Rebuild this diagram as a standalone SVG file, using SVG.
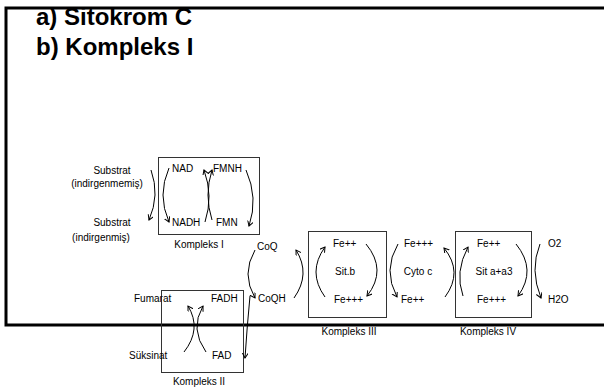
<svg xmlns="http://www.w3.org/2000/svg" width="604" height="388" viewBox="0 0 604 388">
<defs>
<style>
.t{font-family:"Liberation Sans",Arial,sans-serif;font-size:10px;fill:#000}
.h{font-family:"Liberation Sans",Arial,sans-serif;font-size:24px;font-weight:bold;fill:#000}
.m{text-anchor:middle}
.box{fill:none;stroke:#333;stroke-width:1}
.c{fill:none;stroke:#000;stroke-width:1;marker-end:url(#a)}
.fr{fill:none;stroke:#000;stroke-width:3}
</style>
<marker id="a" markerWidth="8" markerHeight="8" refX="5" refY="3" orient="auto" markerUnits="userSpaceOnUse">
<path d="M0,0 L5,3 L0,6" fill="none" stroke="#000" stroke-width="1"/>
</marker>
</defs>
<rect width="604" height="388" fill="#fff"/>
<g id="frame">
<path class="fr" d="M604,8 H6 V325 H604"/>
</g>
<g id="title">
<text class="h" x="36" y="25">a) Sitokrom C</text>
<text class="h" x="36" y="55">b) Kompleks I</text>
</g>
<g id="substrat">
<text class="t m" x="112" y="174">Substrat</text>
<text class="t m" x="107" y="187">(indirgenmemiş)</text>
<text class="t m" x="112" y="226">Substrat</text>
<text class="t m" x="101" y="241">(indirgenmiş)</text>
</g>
<g id="kompleks1">
<rect class="box" x="158.5" y="157.5" width="101" height="77"/>
<text class="t" x="172" y="172">NAD</text>
<text class="t" x="213" y="172">FMNH</text>
<text class="t" x="172" y="226">NADH</text>
<text class="t" x="216" y="226">FMN</text>
<text class="t m" x="199" y="248">Kompleks I</text>
</g>
<g id="coq">
<text class="t" x="257" y="250">CoQ</text>
<text class="t" x="258" y="302">CoQH</text>
</g>
<g id="kompleks2">
<rect class="box" x="161.5" y="290.5" width="82" height="82"/>
<text class="t" x="134" y="302">Fumarat</text>
<text class="t" x="211" y="302">FADH</text>
<text class="t" x="129" y="359">Süksinat</text>
<text class="t" x="212" y="359">FAD</text>
<text class="t m" x="199" y="385">Kompleks II</text>
</g>
<g id="kompleks3">
<rect class="box" x="308.5" y="231.5" width="78" height="86"/>
<text class="t" x="333" y="247">Fe++</text>
<text class="t m" x="345" y="275">Sit.b</text>
<text class="t" x="334" y="303">Fe+++</text>
<text class="t m" x="349" y="335">Kompleks III</text>
</g>
<g id="cytoc">
<text class="t" x="404" y="247">Fe+++</text>
<text class="t m" x="418" y="275">Cyto c</text>
<text class="t" x="401" y="303">Fe++</text>
</g>
<g id="kompleks4">
<rect class="box" x="455.5" y="231.5" width="76" height="86"/>
<text class="t" x="477" y="247">Fe++</text>
<text class="t m" x="494" y="275">Sit a+a3</text>
<text class="t" x="477" y="303">Fe+++</text>
<text class="t m" x="488" y="335">Kompleks IV</text>
</g>
<g id="oxygen">
<text class="t" x="548" y="247">O2</text>
<text class="t" x="548" y="303">H2O</text>
</g>
<g id="connectors">
<path class="c" d="M151,170 Q160,195 149,220"/>
<path class="c" d="M169,168 Q157,195 169,222"/>
<path class="c" d="M205,222 Q213.5,196 204,170"/>
<path class="c" d="M212,220 Q204,195 212,170"/>
<path class="c" d="M246,170 Q258.5,198 249,226"/>
<path class="c" d="M184,352 Q202,329 188,306"/>
<path class="c" d="M206,352 Q189.5,329 203,306"/>
<path class="c" d="M250,296 Q247,327 245,358"/>
<path class="c" d="M255,250 Q241,274 255,298"/>
<path class="c" d="M294,298 Q311,274 296,250"/>
<path class="c" d="M325,297 Q307,272 325,247"/>
<path class="c" d="M366,244 Q387.5,270 367,296"/>
<path class="c" d="M398,244 Q382.5,270 397,297"/>
<path class="c" d="M445,297 Q463.5,272 444,248"/>
<path class="c" d="M463,296 Q454.5,272 468,247"/>
<path class="c" d="M516,244 Q537,270 518,296"/>
<path class="c" d="M540,244 Q529.5,270 541,298"/>
</g>
</svg>
